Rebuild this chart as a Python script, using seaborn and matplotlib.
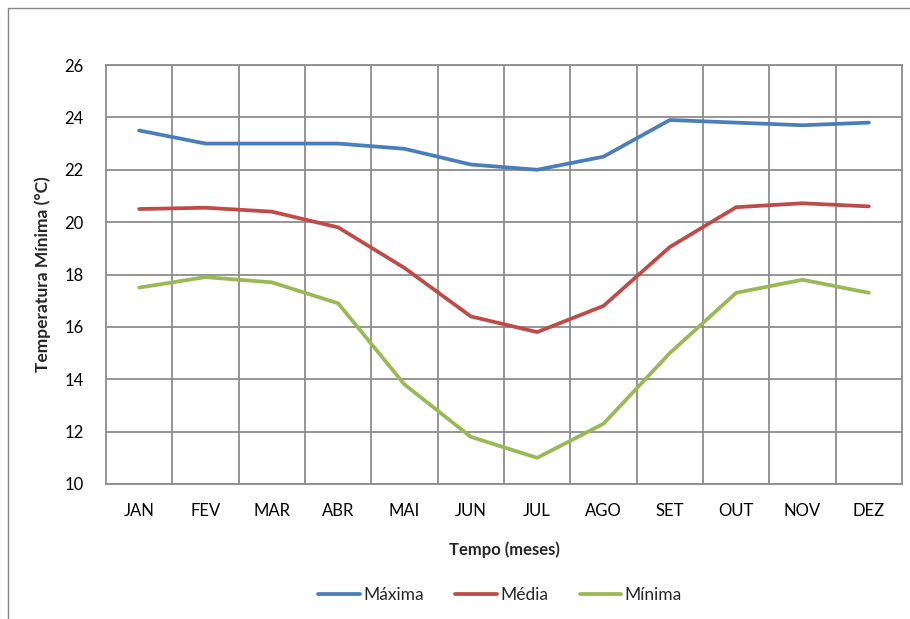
import pandas as pd
import numpy as np
import matplotlib.pyplot as plt
import seaborn as sns
from matplotlib.patches import Rectangle

# Monthly temperatures
months = ["JAN", "FEV", "MAR", "ABR", "MAI", "JUN", "JUL", "AGO", "SET", "OUT", "NOV", "DEZ"]
maxima = [23.5, 23.0, 23.0, 23.0, 22.8, 22.2, 22.0, 22.5, 23.9, 23.8, 23.7, 23.8]
media = [20.5, 20.55, 20.4, 19.8, 18.25, 16.4, 15.8, 16.8, 19.05, 20.57, 20.72, 20.6]
minima = [17.5, 17.9, 17.7, 16.9, 13.8, 11.8, 11.0, 12.3, 15.0, 17.3, 17.8, 17.3]
series_names = ["Máxima", "Média", "Mínima"]
colors = ["#4A7EBB", "#BE4B48", "#98B954"]

df = pd.DataFrame({"Mês": months * 3,
                   "pos": list(range(12)) * 3,
                   "Temp": maxima + media + minima,
                   "Série": np.repeat(series_names, 12)})

sns.set_style("white")
plt.rcParams['font.family'] = ['Lato', 'DejaVu Sans']

fig = plt.figure(figsize=(9.1, 6.19), dpi=100)
ax = fig.add_axes([106 / 910, 1 - 484 / 619, 796 / 910, 419 / 619])

# outer chart border
fig.patches.append(Rectangle((8 / 910, -0.1), 1.1, 1 - 8 / 619 + 0.1, transform=fig.transFigure,
                             fill=False, edgecolor="#868686", lw=1.0))

sns.lineplot(data=df, x="pos", y="Temp", hue="Série", palette=colors, linewidth=2.7,
             ax=ax, legend=False, zorder=3)

ax.set_xlim(-0.5, 11.5)
ax.set_ylim(10, 26)
ax.set_yticks(range(10, 27, 2))
ax.set_xticks(range(12))
ax.set_xticklabels(months)
ax.set_xticks(np.arange(0.5, 11, 1), minor=True)
ax.grid(True, which="major", axis="y", color="#8c8c8c", lw=1.3)
ax.grid(True, which="minor", axis="x", color="#8c8c8c", lw=1.3)
ax.grid(False, which="major", axis="x")
ax.tick_params(axis="both", which="both", length=0, labelsize=12, colors="black")
ax.tick_params(axis="x", pad=14)
ax.tick_params(axis="y", pad=16)
for s in ax.spines.values():
    s.set_color("#8c8c8c")
    s.set_linewidth(1.3)

ax.set_xlabel("Tempo (meses)", fontsize=12, fontweight="bold", labelpad=16)
ax.set_ylabel("Temperatura Mínima (°C)", fontsize=12.5, fontweight="bold", labelpad=10)

handles = [plt.Line2D([], [], color=c, lw=2.7) for c in colors]
fig.legend(handles, series_names, loc="center", bbox_to_anchor=(500 / 910, 1 - 595 / 619),
           ncol=3, frameon=False, fontsize=12.5, handlelength=2.4, handletextpad=0.2,
           columnspacing=1.8)

plt.savefig("out.png", dpi=100)
